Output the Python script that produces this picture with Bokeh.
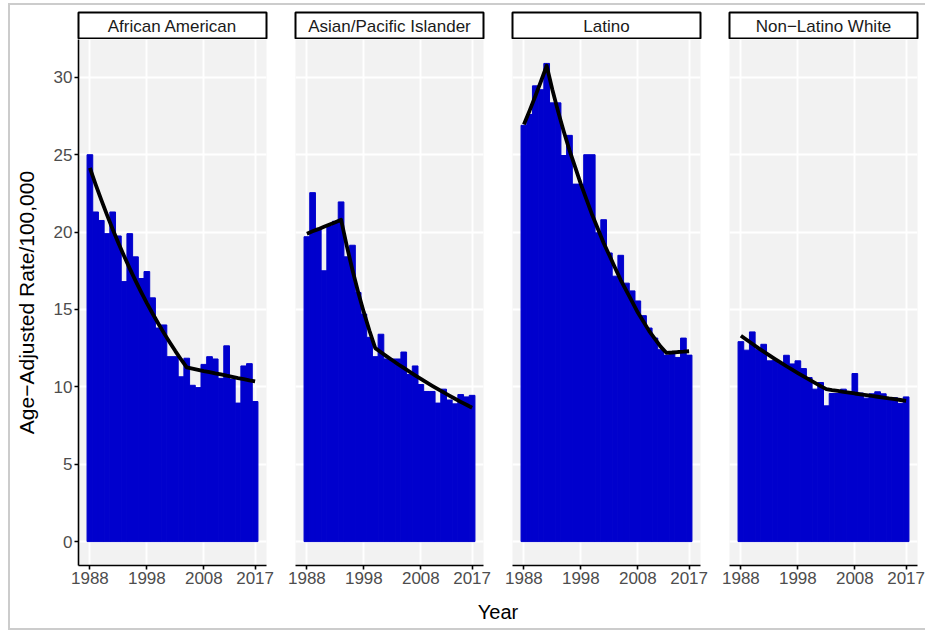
from bokeh.plotting import figure
from bokeh.layouts import row, column
from bokeh.models import Range1d, FixedTicker, Label
from bokeh.embed import file_html
from bokeh.resources import INLINE

# ---------------- data ----------------
years = list(range(1988, 2018))
groups = ["African American", "Asian/Pacific Islander", "Latino", "Non\u2212Latino White"]

rate_african_american = [25.0, 21.3, 20.75, 19.9, 21.3, 19.75, 16.8, 19.9, 18.4, 17.0,
                         17.45, 15.75, 13.8, 14.0, 11.95, 11.95, 10.65, 11.85, 10.1, 9.95,
                         11.45, 11.95, 11.8, 10.55, 12.65, 10.5, 8.95, 11.35, 11.5, 9.05]
rate_asian_pi = [19.7, 22.55, 20.2, 17.5, 20.4, 20.7, 21.95, 18.4, 19.15, 16.1,
                 14.7, 13.2, 11.95, 13.4, 11.8, 11.8, 11.8, 12.25, 10.8, 11.35,
                 10.15, 9.7, 9.7, 8.95, 9.85, 9.15, 8.9, 9.5, 9.35, 9.45]
rate_latino = [26.9, 27.6, 29.45, 29.2, 30.9, 28.35, 28.35, 24.95, 26.25, 23.1,
               23.1, 25.0, 25.0, 19.95, 20.8, 18.65, 17.15, 18.5, 16.7, 16.2,
               15.55, 14.6, 13.8, 13.15, 12.4, 12.05, 12.2, 11.9, 13.15, 12.05]
rate_nl_white = [12.92, 12.37, 13.55, 12.4, 12.75, 11.68, 11.7, 11.5, 12.04, 11.48,
                 11.68, 11.18, 10.6, 9.85, 10.28, 8.77, 9.57, 9.57, 9.85, 9.63,
                 10.86, 9.6, 9.27, 9.55, 9.68, 9.55, 9.3, 9.3, 8.93, 9.35]

trend_african_american = [24.15, 23.09, 22.08, 21.11, 20.18, 19.29, 18.45, 17.64, 16.86, 16.12,
                          15.41, 14.74, 14.09, 13.47, 12.88, 12.31, 11.77, 11.26, 11.18, 11.10,
                          11.02, 10.95, 10.87, 10.80, 10.72, 10.65, 10.57, 10.50, 10.42, 10.35]
trend_asian_pi = [19.9, 20.05, 20.19, 20.34, 20.49, 20.64, 20.8, 19.11, 17.55, 16.12,
                  14.81, 13.61, 12.5, 12.23, 11.97, 11.72, 11.46, 11.22, 10.98, 10.74,
                  10.51, 10.29, 10.07, 9.85, 9.64, 9.43, 9.23, 9.03, 8.84, 8.65]
trend_latino = [26.95, 27.85, 28.78, 29.75, 30.75, 29.2, 27.8, 26.5, 25.3, 24.2,
                23.1, 22.1, 21.1, 20.2, 19.3, 18.5, 17.7, 16.9, 16.2, 15.5,
                14.8, 14.2, 13.6, 13.1, 12.6, 12.2, 12.22, 12.25, 12.27, 12.3]
trend_nl_white = [13.3, 13.04, 12.78, 12.52, 12.28, 12.03, 11.79, 11.56, 11.33, 11.11,
                  10.89, 10.67, 10.46, 10.25, 10.05, 9.85, 9.79, 9.74, 9.68, 9.63,
                  9.57, 9.52, 9.47, 9.41, 9.36, 9.31, 9.25, 9.20, 9.15, 9.10]

rates = [rate_african_american, rate_asian_pi, rate_latino, rate_nl_white]
trends = [trend_african_american, trend_asian_pi, trend_latino, trend_nl_white]

x_ticks = [1988, 1998, 2008, 2017]
y_ticks = [0, 5, 10, 15, 20, 25, 30]
y_title = "Age\u2212Adjusted Rate/100,000"
x_title = "Year"

# ---------------- style ----------------
FONT = "Liberation Sans"
FW, FH, SH = 188, 526, 27
GAP = 29
BAR = "#0000CD"
PANEL_BG = "#F2F2F2"

columns = []
for k, g in enumerate(groups):
    left = 68 if k == 0 else 17
    right = 8 if k == 3 else 12

    strip = figure(frame_width=FW, frame_height=SH, min_border_left=left,
                   min_border_right=right, min_border_top=7, min_border_bottom=0,
                   x_range=Range1d(0, 1), y_range=Range1d(0, 1),
                   x_axis_location=None, y_axis_location=None,
                   toolbar_location=None, output_backend="svg")
    strip.grid.visible = False
    strip.background_fill_color = "white"
    strip.border_fill_color = "white"
    strip.outline_line_color = "black"
    strip.outline_line_width = 2
    strip.add_layout(Label(x=0.5, y=0.5, text=g, text_align="center",
                           text_baseline="middle", text_font_size="17px",
                           text_font=FONT, text_color="#1a1a1a"))

    p = figure(frame_width=FW, frame_height=FH, min_border_left=left,
               min_border_right=right, min_border_top=0, min_border_bottom=27,
               x_range=Range1d(1986, 2019), y_range=Range1d(-1.545, 32.445),
               y_axis_location="left" if k == 0 else None,
               toolbar_location=None, output_backend="svg")
    p.background_fill_color = PANEL_BG
    p.border_fill_color = "white"
    p.outline_line_color = None

    p.vbar(x=years, top=rates[k], width=1, fill_color=BAR, line_color=BAR, line_width=1)
    p.line(years, trends[k], line_color="black", line_width=3.8, line_join="round")

    p.xgrid.ticker = FixedTicker(ticks=x_ticks)
    p.ygrid.ticker = FixedTicker(ticks=y_ticks)
    for gr in p.grid:
        gr.grid_line_color = "white"
        gr.grid_line_width = 2

    axes = [p.xaxis[0]] + ([p.yaxis[0]] if k == 0 else [])
    for ax in axes:
        ax.axis_line_color = "black"
        ax.axis_line_width = 1.6
        ax.major_tick_line_color = "black"
        ax.major_tick_line_width = 1.6
        ax.major_tick_out = 4
        ax.major_tick_in = 0
        ax.minor_tick_line_color = None
        ax.major_label_text_font = FONT
        ax.major_label_text_font_size = "17px"
        ax.major_label_text_color = "#4d4d4d"
        ax.major_label_standoff = 2
    p.xaxis.ticker = FixedTicker(ticks=x_ticks)
    if k == 0:
        p.yaxis.ticker = FixedTicker(ticks=y_ticks)
        p.yaxis.axis_label = y_title
        p.yaxis.axis_label_text_font = FONT
        p.yaxis.axis_label_text_font_size = "21px"
        p.yaxis.axis_label_text_font_style = "normal"
        p.yaxis.axis_label_text_color = "black"
        p.yaxis.axis_label_standoff = 13

    columns.append(column(strip, p, spacing=0))

yr = figure(frame_width=4 * FW + 3 * GAP, frame_height=36, min_border_left=68,
            min_border_right=8, min_border_top=0, min_border_bottom=0,
            x_range=Range1d(0, 1), y_range=Range1d(0, 1),
            x_axis_location=None, y_axis_location=None,
            toolbar_location=None, output_backend="svg")
yr.grid.visible = False
yr.outline_line_color = None
yr.add_layout(Label(x=0.5, y=0.47, text=x_title, text_align="center",
                    text_baseline="middle", text_font_size="20px",
                    text_font=FONT, text_color="black"))

layout = column(row(*columns, spacing=0), yr, spacing=0,
                styles={"margin-left": "8px", "margin-top": "3px",
                        "border-left": "2px solid #cccccc",
                        "border-top": "2px solid #cccccc",
                        "border-bottom": "2px solid #cccccc"})

open("out.html", "w").write(file_html(layout, INLINE))
